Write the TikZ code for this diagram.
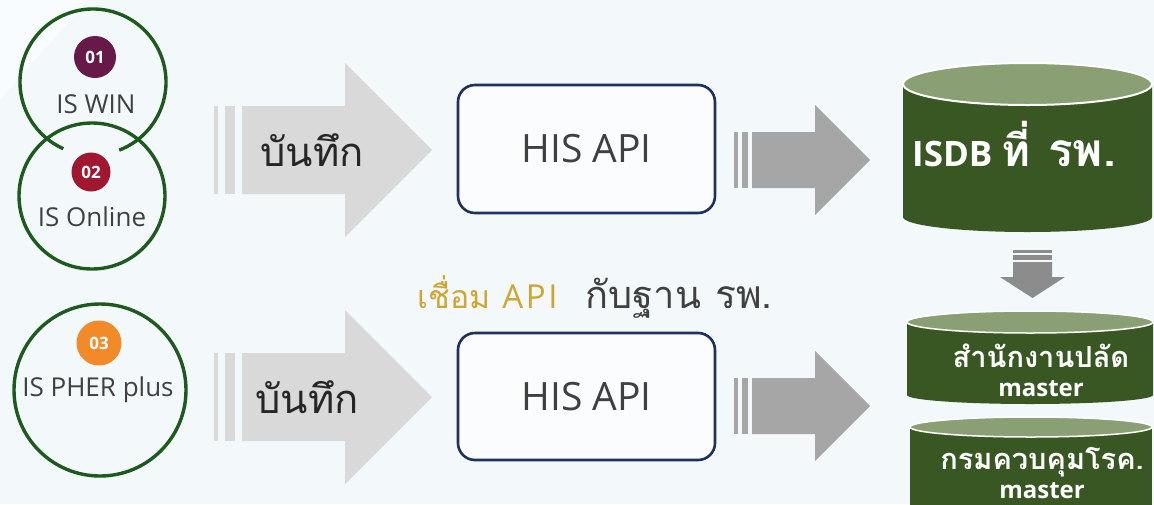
\documentclass[tikz,border=0pt]{standalone}
\usepackage{fontspec}
\setmainfont{Open Sans}
\newfontfamily\thai[Script=Thai]{Loma}
\newcommand\myfs[1]{\fontsize{#1}{#1}\selectfont}
\setlength{\lineskiplimit}{-100pt}
\definecolor{bg}{HTML}{F3F8FB}
\definecolor{bgl}{HTML}{F9FCFE}
\definecolor{lgray}{HTML}{D9D9D9}
\definecolor{dgray}{HTML}{A6A6A6}
\definecolor{sgray}{HTML}{8C8C8C}
\definecolor{navy}{HTML}{1F2F5F}
\definecolor{txt}{HTML}{404040}
\definecolor{gold}{HTML}{CFA630}
\definecolor{ring}{HTML}{1E5A1E}
\definecolor{cylg}{HTML}{385723}
\definecolor{topg}{HTML}{8AA074}
\definecolor{bA}{HTML}{67194A}
\definecolor{bB}{HTML}{A0172F}
\definecolor{bC}{HTML}{F28A2A}
\tikzset{
  ringline/.style={draw=ring, line width=3.4pt},
  ringnode/.style={circle, inner sep=0pt},
  badge/.style={circle, inner sep=0pt, text=white, font=\myfs{17}\bfseries},
  lbl/.style={text=txt, font=\myfs{26}, inner sep=0pt},
  hisbox/.style={draw=navy, line width=2.6pt, rounded corners=17pt, fill=white!60!bg, text=txt, font=\myfs{39}},
  savetxt/.style={text=black!85, font=\thai\myfs{40}, inner sep=0pt},
  cyltxt/.style={text=white, font=\bfseries\myfs{32}, inner sep=0pt, align=center},
}
\begin{document}
\begin{tikzpicture}[x=1pt,y=-1pt]
\useasboundingbox (0,0) rectangle (1154,504);
\clip (0,0) rectangle (1154,504);
\fill[bg] (0,0) rectangle (1154,504);
\fill[bgl] (0,0) -- (88,0) -- (0,100) -- cycle;

% --- source circles ---
\node[ringnode, minimum size=146pt] (c1) at (93,82) {};
\node[ringnode, ringline, minimum size=146pt] (c2) at (92,196) {};
\node[ringnode, ringline, minimum size=172pt] (c3) at (100,390) {};
\draw[ringline] ([shift={(291:73pt)}]c1.center) arc[start angle=291, end angle=606, radius=73pt];

\node[badge, fill=bA, minimum size=42pt] (n1) at (95,57) {01};
\node[lbl] (t1) at (96,104) {IS WIN};
\node[badge, fill=bB, minimum size=39pt] (n2) at (91,172) {02};
\node[lbl] (t2) at (92,217) {IS Online};
\node[badge, fill=bC, minimum size=45pt] (n3) at (99,343) {03};
\node[lbl] (t3) at (98,390) {IS PHER plus};

% --- light arrows ---
\foreach \cy in {150,397}{
  \fill[lgray] (214,\cy-44) rectangle (218,\cy+44);
  \fill[lgray] (225,\cy-44) rectangle (235,\cy+44);
  \fill[lgray] (242,\cy-44) -- (345,\cy-44) -- (345,\cy-87) -- (432,\cy)
     -- (345,\cy+87) -- (345,\cy+44) -- (242,\cy+44) -- cycle;
}
\node[savetxt] (s1) at (312,150) {บันทึก};
\node[savetxt] (s2) at (307,397) {บันทึก};

% --- HIS API boxes ---
\node[hisbox, minimum width=257pt, minimum height=128pt] (h1) at (586.5,149) {HIS API};
\node[hisbox, minimum width=257pt, minimum height=127pt] (h2) at (586.5,396.5) {HIS API};

% --- middle caption ---
\node[inner sep=0pt, anchor=base] (cap) at (595,308)
  {\textcolor{gold}{{\thai\myfs{32}เชื่อม}\hspace{12pt}{\myfs{33}\addfontfeature{LetterSpace=8}API}}\hspace{28pt}%
   \textcolor{txt}{{\thai\myfs{38}กับฐาน}\hspace{14pt}{\thai\myfs{39}รพ.}}};

% --- dark arrows ---
\foreach \cy in {160,406}{
  \fill[dgray] (734,\cy-28) rectangle (738,\cy+28);
  \fill[dgray] (742,\cy-28) rectangle (748,\cy+28);
  \fill[dgray] (752,\cy-28) -- (815,\cy-28) -- (815,\cy-55) -- (870,\cy)
     -- (815,\cy+55) -- (815,\cy+28) -- (752,\cy+28) -- cycle;
}

% --- cylinder 1 ---
\fill[cylg] (903,84) -- (903,217) arc[start angle=180, end angle=360, x radius=124.5pt, y radius=15pt] -- (1152,84) -- cycle;
\filldraw[fill=topg, draw=white, line width=2pt] (1027.5,84) ellipse[x radius=124.5pt, y radius=21pt];
\node[cyltxt, anchor=base west, font=\bfseries\myfs{35}] (d1a) at (912,166) {ISDB};
\node[cyltxt, anchor=base west, font=\bfseries\thai\myfs{44}] (d1b) at (1001,166) {ที่};
\node[cyltxt, anchor=base west, font=\bfseries\thai\myfs{46}] (d1c) at (1048,166) {รพ.};

% --- small down arrow ---
\fill[sgray] (1013,250) rectangle (1052,253);
\fill[sgray] (1013,255) rectangle (1052,260);
\fill[sgray] (1013,262) -- (1052,262) -- (1052,277) -- (1065,277) -- (1032.5,298) -- (1000,277) -- (1013,277) -- cycle;

% --- cylinder 2 ---
\fill[cylg] (907,322) -- (907,395) arc[start angle=180, end angle=360, x radius=123pt, y radius=9pt] -- (1153,322) -- cycle;
\filldraw[fill=topg, draw=white, line width=1.5pt] (1030,322) ellipse[x radius=123pt, y radius=11pt];
\node[cyltxt, font=\bfseries\myfs{24}] (d2) at (1041,370) {{\thai\myfs{29}สำนักงานปลัด}\\[5pt]master};

% --- cylinder 3 ---
\fill[cylg] (910,427) -- (910,520) -- (1152,520) -- (1152,427) -- cycle;
\filldraw[fill=topg, draw=white, line width=1.5pt] (1031,427) ellipse[x radius=121pt, y radius=10pt];
\node[cyltxt, font=\bfseries\myfs{24}] (d3) at (1042,473) {{\thai\myfs{29}กรมควบคุมโรค.}\\[5pt]master};
\end{tikzpicture}
\end{document}
